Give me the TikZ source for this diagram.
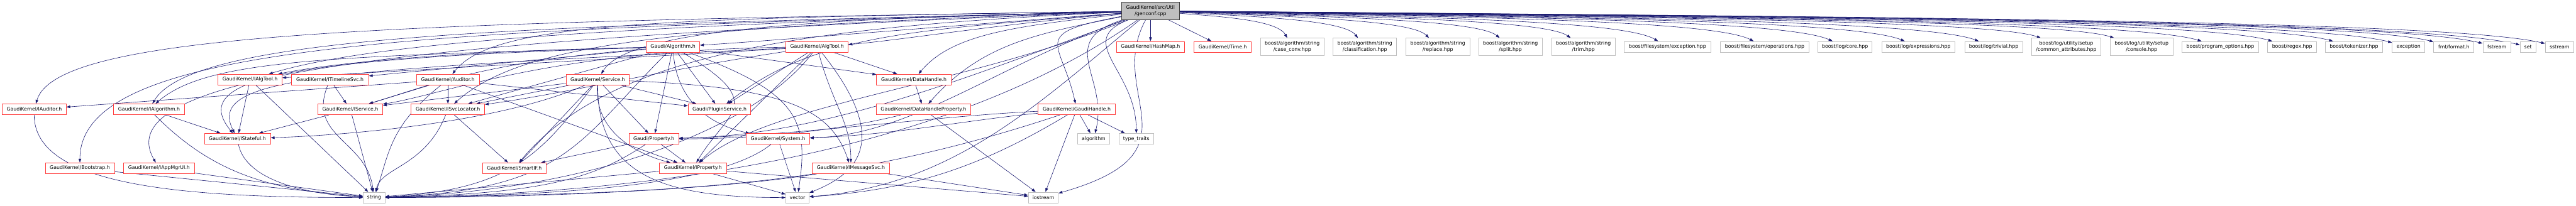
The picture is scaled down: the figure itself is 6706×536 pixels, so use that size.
\documentclass[tikz,border=0pt]{standalone}
\usepackage{fontspec}
\usepackage{tikz}
\usetikzlibrary{arrows.meta,backgrounds}
\newfontfamily\dvs{DejaVu Sans}
\definecolor{edgeblue}{HTML}{191970}
\definecolor{truncred}{HTML}{FF3B3B}
\definecolor{graybd}{HTML}{BFBFBF}
\definecolor{rootfill}{HTML}{BFBFBF}
\definecolor{rootbd}{HTML}{404040}
\begin{document}
\begin{tikzpicture}[
  x=1pt,y=-1pt,
  file/.style={draw=graybd,fill=white,line width=1.4pt,minimum height=28pt,inner sep=0pt,align=center,
    font=\dvs\fontsize{12.8pt}{17pt}\selectfont},
  trunc/.style={file,draw=truncred},
  twoline/.style={file,minimum height=45pt},
  rootfile/.style={file,draw=rootbd,fill=rootfill,minimum height=45pt},
  dep/.style={draw=edgeblue,line width=1pt,-{Triangle[length=10pt,width=7pt]}}
]
\useasboundingbox (0,0) rectangle (6706,536);
\node[rootfile,minimum width=150pt] (root) at (2995,28.5) {GaudiKernel/src/Util\\/genconf.cpp};
% row 1
\node[trunc,minimum width=139pt] (algo) at (1752,122) {Gaudi/Algorithm.h};
\node[trunc,minimum width=162pt] (algtool) at (2127,122) {GaudiKernel/AlgTool.h};
\node[trunc,minimum width=178pt] (hashmap) at (2995,122) {GaudiKernel/HashMap.h};
\node[trunc,minimum width=149pt] (time) at (3183,122) {GaudiKernel/Time.h};
\node[twoline,minimum width=165pt] (caseconv) at (3364,122) {boost/algorithm/string\\/case\_conv.hpp};
\node[twoline,minimum width=165pt] (classif) at (3553,122) {boost/algorithm/string\\/classification.hpp};
\node[twoline,minimum width=166pt] (replace) at (3743,122) {boost/algorithm/string\\/replace.hpp};
\node[twoline,minimum width=165pt] (split) at (3932,122) {boost/algorithm/string\\/split.hpp};
\node[twoline,minimum width=165pt] (trim) at (4122,122) {boost/algorithm/string\\/trim.hpp};
\node[file,minimum width=225pt] (fsexc) at (4341,122) {boost/filesystem/exception.hpp};
\node[file,minimum width=230pt] (fsops) at (4594,122) {boost/filesystem/operations.hpp};
\node[file,minimum width=141pt] (logcore) at (4803,122) {boost/log/core.hpp};
\node[file,minimum width=191pt] (logexpr) at (4994,122) {boost/log/expressions.hpp};
\node[file,minimum width=151pt] (logtriv) at (5190,122) {boost/log/trivial.hpp};
\node[twoline,minimum width=180pt] (logcommon) at (5379,122) {boost/log/utility/setup\\/common\_attributes.hpp};
\node[twoline,minimum width=164pt] (logconsole) at (5575,122) {boost/log/utility/setup\\/console.hpp};
\node[file,minimum width=199pt] (progopt) at (5780,122) {boost/program\_options.hpp};
\node[file,minimum width=127pt] (regex) at (5967,122) {boost/regex.hpp};
\node[file,minimum width=148pt] (tokenizer) at (6128,122) {boost/tokenizer.hpp};
\node[file,minimum width=85pt] (exception) at (6270,122) {exception};
\node[file,minimum width=105pt] (fmtformat) at (6388,122) {fmt/format.h};
\node[file,minimum width=73pt] (fstream) at (6500,122) {fstream};
\node[file,minimum width=41pt] (set) at (6581,122) {set};
\node[file,minimum width=74pt] (sstream) at (6663,122) {sstream};
% row 2
\node[trunc,minimum width=167pt] (ialgtool) at (651,207.5) {GaudiKernel/IAlgTool.h};
\node[trunc,minimum width=201pt] (itimeline) at (859,207.5) {GaudiKernel/ITimelineSvc.h};
\node[trunc,minimum width=163pt] (auditor) at (1166,207.5) {GaudiKernel/Auditor.h};
\node[trunc,minimum width=164pt] (service) at (1556,207.5) {GaudiKernel/Service.h};
\node[trunc,minimum width=194pt] (datahandle) at (2379,207.5) {GaudiKernel/DataHandle.h};
% row 3
\node[trunc,minimum width=166pt] (iauditor) at (89,285) {GaudiKernel/IAuditor.h};
\node[trunc,minimum width=184pt] (ialgorithm) at (388,285) {GaudiKernel/IAlgorithm.h};
\node[trunc,minimum width=168pt] (iservice) at (912,285) {GaudiKernel/IService.h};
\node[trunc,minimum width=191pt] (isvcloc) at (1166,285) {GaudiKernel/ISvcLocator.h};
\node[trunc,minimum width=163pt] (plugin) at (1873,285) {Gaudi/PluginService.h};
\node[trunc,minimum width=246pt] (dhprop) at (2404,285) {GaudiKernel/DataHandleProperty.h};
\node[trunc,minimum width=201pt] (gaudihandle) at (2803,285) {GaudiKernel/GaudiHandle.h};
% row 4
\node[trunc,minimum width=172pt] (istateful) at (618,362) {GaudiKernel/IStateful.h};
\node[trunc,minimum width=129pt] (property) at (1702,362) {Gaudi/Property.h};
\node[trunc,minimum width=165pt] (system) at (2025,362) {GaudiKernel/System.h};
\node[file,minimum width=84pt] (algorithm) at (2847,362) {algorithm};
\node[file,minimum width=91pt] (typetraits) at (2958,362) {type\_traits};
% row 5
\node[trunc,minimum width=180pt] (bootstrap) at (208,438.5) {GaudiKernel/Bootstrap.h};
\node[trunc,minimum width=185pt] (iappmgrui) at (414,438.5) {GaudiKernel/IAppMgrUI.h};
\node[trunc,minimum width=164pt] (smartif) at (1339,438.5) {GaudiKernel/SmartIF.h};
\node[trunc,minimum width=174pt] (iproperty) at (1804,438.5) {GaudiKernel/IProperty.h};
\node[trunc,minimum width=202pt] (imessagesvc) at (2215,438.5) {GaudiKernel/IMessageSvc.h};
% row 6
\node[file,minimum width=57pt] (string) at (974,515) {string};
\node[file,minimum width=61pt] (vector) at (2076,515) {vector};
\node[file,minimum width=78pt] (iostream) at (2716,515) {iostream};

\begin{pgfonlayer}{background}
% genconf.cpp, right side
\foreach \t/\d in {caseconv/369,classif/558,replace/748,split/937,trim/1127,fsexc/1346,fsops/1599,
    logcore/1808,logexpr/1999,logtriv/2195,logcommon/2384,logconsole/2580,progopt/2785,regex/2972,
    tokenizer/3133,exception/3275,fmtformat/3393,fstream/3505,set/3586,sstream/3668}
  \draw[dep] (root) .. controls +(0.5*\d,15) and +(-0.08*\d-10,-70) .. (\t);
\draw[dep] (root) -- (hashmap);
\draw[dep] (root) -- (time);
% genconf.cpp, left side
\draw[dep] (root) .. controls +(-2000,30) and +(60,-200) .. (iauditor);
\draw[dep] (root) .. controls +(-1900,50) and +(0,-330) .. (bootstrap);
\draw[dep] (root) .. controls +(-1800,70) and +(-150,-260) .. (iappmgrui);
\draw[dep] (root) .. controls +(-1600,40) and +(120,-200) .. (ialgorithm);
\draw[dep] (root) .. controls +(-1500,40) and +(300,-90) .. (ialgtool);
\draw[dep] (root) .. controls +(-1300,20) and +(120,-150) .. (auditor);
\draw[dep] (root) .. controls +(-1200,40) and +(200,-180) .. (isvcloc);
\draw[dep] (root) .. controls +(-900,20) and +(80,-130) .. (service);
\draw[dep] (root) .. controls +(-900,40) and +(250,-300) .. (smartif);
\draw[dep] (root) .. controls +(-600,45) and +(250,-15) .. (algo);
\draw[dep] (root) .. controls +(-400,35) and +(200,-15) .. (algtool);
\draw[dep] (root) .. controls +(-600,50) and +(250,-200) .. (plugin);
\draw[dep] (root) .. controls +(-350,40) and +(100,-120) .. (datahandle);
\draw[dep] (root) .. controls +(-300,60) and +(150,-170) .. (dhprop);
\draw[dep] (root) .. controls +(-320,60) and +(-40,-180) .. (gaudihandle);
\draw[dep] (root) .. controls +(-250,80) and +(40,-160) .. (algorithm);
\draw[dep] (root) .. controls +(-200,80) and +(0,-180) .. (typetraits);
\draw[dep] (root) .. controls +(-120,220) and +(420,-120) .. (iostream);
\draw[dep] (root) .. controls +(-400,140) and +(350,-10) .. (system);
\draw[dep] (root) .. controls +(-500,180) and +(450,-10) .. (property);
\draw[dep] (root) .. controls +(-500,200) and +(200,-170) .. (iproperty);
\draw[dep] (root) .. controls +(-300,250) and +(400,-30) .. (vector);
\draw[dep] (root) .. controls +(-500,350) and +(800,-10) .. (string);
% Gaudi/Algorithm.h
\draw[dep] (algo) .. controls +(-900,25) and +(150,-130) .. (ialgorithm);
\draw[dep] (algo) .. controls +(-500,10) and +(250,-50) .. (ialgtool);
\draw[dep] (algo) -- (itimeline);
\draw[dep] (algo) .. controls +(-500,40) and +(200,-60) .. (iservice);
\draw[dep] (algo) .. controls +(-1000,30) and +(-130,-160) .. (istateful);
\draw[dep] (algo) -- (isvcloc);
\draw[dep] (algo) -- (plugin);
\draw[dep] (algo) -- (property);
\draw[dep] (algo) .. controls +(10,160) and +(-150,-30) .. (system);
\draw[dep] (algo) .. controls +(250,150) and +(90,-150) .. (iproperty);
\draw[dep] (algo) -- (datahandle);
\draw[dep] (algo) .. controls +(330,120) and +(30,-200) .. (vector);
\draw[dep] (algo) .. controls +(-250,250) and +(500,-20) .. (string);
% GaudiKernel/AlgTool.h
\draw[dep] (algtool) -- (ialgtool);
\draw[dep] (algtool) .. controls +(-700,10) and +(250,-40) .. (iservice);
\draw[dep] (algtool) .. controls +(-1300,60) and +(-80,-160) .. (istateful);
\draw[dep] (algtool) .. controls +(-400,60) and +(300,-40) .. (isvcloc);
\draw[dep] (algtool) -- (plugin);
\draw[dep] (algtool) -- (iproperty);
\draw[dep] (algtool) -- (datahandle);
\draw[dep] (algtool) .. controls +(40,150) and +(0,-120) .. (imessagesvc);
\draw[dep] (algtool) .. controls +(200,250) and +(150,-60) .. (vector);
\draw[dep] (algtool) .. controls +(-150,200) and +(600,-20) .. (string);
% GaudiKernel/Auditor.h
\draw[dep] (auditor) -- (iauditor);
\draw[dep] (auditor) -- (isvcloc);
\draw[dep] (auditor) -- (iservice);
\draw[dep] (auditor) -- (plugin);
\draw[dep] (auditor) -- (iproperty);
\draw[dep] (auditor) .. controls +(-150,120) and +(40,-120) .. (string);
% GaudiKernel/Service.h
\draw[dep] (service) -- (iservice);
\draw[dep] (service) -- (isvcloc);
\draw[dep] (service) .. controls +(-250,110) and +(300,-10) .. (istateful);
\draw[dep] (service) -- (smartif);
\draw[dep] (service) -- (property);
\draw[dep] (service) -- (plugin);
\draw[dep] (service) .. controls +(-10,150) and +(-120,-30) .. (iproperty);
\draw[dep] (service) .. controls +(0,250) and +(-350,0) .. (vector);
\draw[dep] (service) .. controls +(-150,200) and +(350,-20) .. (string);
\draw[dep] (service) .. controls +(500,20) and +(-50,-150) .. (imessagesvc);
% interfaces
\draw[dep] (ialgtool) -- (istateful);
\draw[dep] (ialgtool) -- (string);
\draw[dep] (itimeline) -- (iservice);
\draw[dep] (itimeline) .. controls +(-60,150) and +(-20,-150) .. (string);
\draw[dep] (iauditor) .. controls +(0,200) and +(-500,0) .. (string);
\draw[dep] (ialgorithm) -- (istateful);
\draw[dep] (ialgorithm) .. controls +(150,150) and +(-300,-20) .. (string);
\draw[dep] (iservice) -- (istateful);
\draw[dep] (iservice) -- (string);
\draw[dep] (istateful) .. controls +(20,100) and +(-200,-10) .. (string);
\draw[dep] (bootstrap) -- (string);
\draw[dep] (iappmgrui) -- (string);
\draw[dep] (isvcloc) -- (smartif);
\draw[dep] (isvcloc) .. controls +(-60,150) and +(20,-80) .. (string);
\draw[dep] (property) -- (smartif);
\draw[dep] (property) -- (iproperty);
\draw[dep] (property) .. controls +(-150,100) and +(450,-10) .. (string);
\draw[dep] (system) .. controls +(-150,120) and +(500,-5) .. (string);
\draw[dep] (system) -- (vector);
\draw[dep] (iproperty) -- (string);
\draw[dep] (iproperty) -- (vector);
\draw[dep] (iproperty) -- (iostream);
\draw[dep] (imessagesvc) -- (iostream);
\draw[dep] (imessagesvc) .. controls +(-300,50) and +(500,0) .. (string);
\draw[dep] (datahandle) -- (dhprop);
\draw[dep] (dhprop) -- (iostream);
\draw[dep] (dhprop) .. controls +(-200,50) and +(300,0) .. (property);
% GaudiKernel/GaudiHandle.h
\draw[dep] (gaudihandle) -- (algorithm);
\draw[dep] (gaudihandle) -- (typetraits);
\draw[dep] (gaudihandle) -- (iostream);
\draw[dep] (gaudihandle) .. controls +(-400,20) and +(400,-10) .. (property);
\draw[dep] (gaudihandle) .. controls +(-300,30) and +(300,-10) .. (system);
\draw[dep] (gaudihandle) .. controls +(-250,150) and +(300,-20) .. (vector);
\draw[dep] (gaudihandle) .. controls +(-600,200) and +(800,-10) .. (string);
\end{pgfonlayer}
\end{tikzpicture}
\end{document}
